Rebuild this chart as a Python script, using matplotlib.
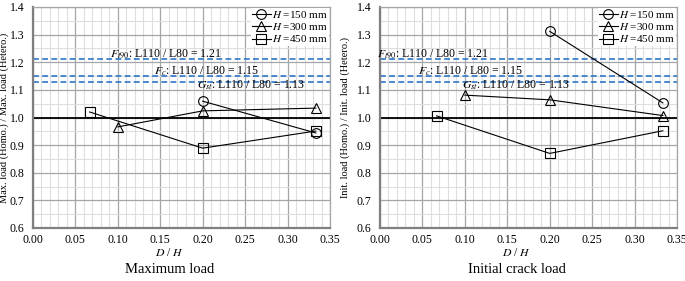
import matplotlib
matplotlib.use("Agg")
import matplotlib.pyplot as plt
from matplotlib.ticker import MultipleLocator

plt.rcParams['font.family'] = ['Liberation Serif', 'DejaVu Serif']
plt.rcParams['mathtext.fontset'] = 'stix'

# Data
dh_150 = [0.2, 0.3333]
dh_300 = [0.1, 0.2, 0.3333]
dh_450 = [0.0667, 0.2, 0.3333]

max_150 = [1.059, 0.944]
max_300 = [0.966, 1.024, 1.034]
max_450 = [1.020, 0.889, 0.951]

init_150 = [1.312, 1.053]
init_300 = [1.081, 1.064, 1.007]
init_450 = [1.006, 0.870, 0.952]

ref_values = [1.21, 1.15, 1.13]
ref_labels = [r'$F_{t90}$: L110 / L80 = 1.21',
              r'$F_{c}$: L110 / L80 = 1.15',
              r'$G_{st}$: L110 / L80 = 1.13']
legend_labels = [r'$H$ =150 mm', r'$H$ =300 mm', r'$H$ =450 mm']

panels = [
    dict(series=[max_150, max_300, max_450],
         ylabel='Max. load (Homo.) / Max. load (Hetero.)',
         title='Maximum load',
         text_x=[0.157, 0.204, 0.257],
         ylabel_x=-0.081),
    dict(series=[init_150, init_300, init_450],
         ylabel='Init. load (Homo.) / Init. load (Hetero.)',
         title='Initial crack load',
         text_x=[0.0625, 0.107, 0.160],
         ylabel_x=-0.102),
]

fig = plt.figure(figsize=(6.85, 2.81), dpi=100)
axes_pos = [[33/685, 53/281, 297/685, 221/281],
            [380/685, 53/281, 297/685, 221/281]]

markers = ['o', '^', 's']
xs = [dh_150, dh_300, dh_450]
blue = '#2E75C6'

for pos, p in zip(axes_pos, panels):
    ax = fig.add_axes(pos)
    ax.set_xlim(0, 0.35)
    ax.set_ylim(0.6, 1.4)
    ax.xaxis.set_major_locator(MultipleLocator(0.05))
    ax.xaxis.set_minor_locator(MultipleLocator(0.01))
    ax.yaxis.set_major_locator(MultipleLocator(0.1))
    ax.yaxis.set_minor_locator(MultipleLocator(0.05))
    ax.xaxis.set_major_formatter(matplotlib.ticker.FormatStrFormatter('%.2f'))
    ax.yaxis.set_major_formatter(matplotlib.ticker.FormatStrFormatter('%.1f'))
    ax.grid(which='major', color='#a6a6a6', lw=0.9)
    ax.grid(which='minor', color='#dedede', lw=0.8)
    ax.set_axisbelow(True)
    ax.tick_params(axis='x', which='both', length=0, labelsize=8.5, pad=4)
    ax.tick_params(axis='y', which='both', length=0, labelsize=8.5, pad=6)
    for s in ['top', 'right']:
        ax.spines[s].set_color('#a6a6a6')
        ax.spines[s].set_linewidth(0.9)
    for s in ['left', 'bottom']:
        ax.spines[s].set_color('#7f7f7f')
        ax.spines[s].set_linewidth(1.6)

    ax.axhline(1.0, color='black', lw=1.3, zorder=2)
    for v in ref_values:
        ax.axhline(v, color=blue, lw=1.2, ls=(0, (3.5, 2)), zorder=2)

    ax.text(p['text_x'][0], 1.221, ref_labels[0], ha='center', va='baseline', fontsize=8.5, zorder=3)
    ax.text(p['text_x'][1], 1.157, ref_labels[1], ha='center', va='baseline', fontsize=8.5, zorder=3)
    ax.text(p['text_x'][2], 1.104, ref_labels[2], ha='center', va='baseline', fontsize=8.5, zorder=3)

    for x, y, m, lab in zip(xs, p['series'], markers, legend_labels):
        ax.plot(x, y, color='black', lw=0.8, marker=m, markersize=7,
                markerfacecolor='none', markeredgecolor='black', markeredgewidth=0.8,
                label=lab, zorder=4)

    leg = ax.legend(loc='upper right', fontsize=8, frameon=True, fancybox=False,
                    edgecolor='none', framealpha=1, handlelength=1.7, handletextpad=0.1,
                    borderpad=0.1, labelspacing=0.1, borderaxespad=0.1)

    ax.set_ylabel(p['ylabel'], fontsize=7.5)
    ax.yaxis.set_label_coords(p['ylabel_x'], 0.5)
    ax.set_xlabel(r'$D$ / $H$', fontsize=8.5)
    ax.xaxis.set_label_coords(0.46, -0.115)
    ax.xaxis.label.set_va('center')
    ax.text(0.46, -0.19, p['title'], transform=ax.transAxes, ha='center', va='center', fontsize=10.5)

fig.savefig('out.png', dpi=100)
